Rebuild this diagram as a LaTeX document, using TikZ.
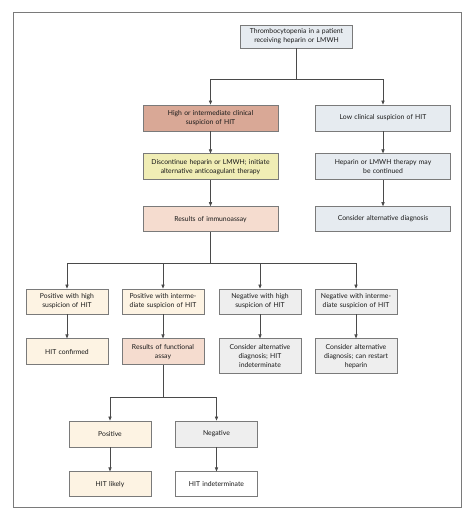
\documentclass[tikz,border=0pt]{standalone}
\usepackage{fontspec}
\setmainfont{Lato}
\usetikzlibrary{positioning, arrows.meta}
\definecolor{linegray}{HTML}{4A4A4A}
\definecolor{boxgray}{HTML}{7A7A7A}
\definecolor{bluegray}{HTML}{E6EBF0}
\definecolor{salmon}{HTML}{D9A896}
\definecolor{paleyellow}{HTML}{F0EDB5}
\definecolor{peach}{HTML}{F5DCCF}
\definecolor{cream}{HTML}{FDF3E3}
\definecolor{lightgray}{HTML}{EEEEEE}
\tikzset{
  box/.style={rectangle, draw=boxgray, line width=0.8pt, align=center, inner sep=1pt, text=black!90},
  widebox/.style={box, minimum width=135pt, minimum height=26pt, text width=131pt},
  smallbox/.style={box, minimum width=82pt, minimum height=25pt, text width=80pt},
  arrow/.style={draw=linegray, line width=0.7pt, -{Triangle[width=3.2pt,length=4pt]}},
  line/.style={draw=linegray, line width=0.7pt},
  frame/.style={draw=boxgray, line width=1pt}
}
\begin{document}
\begin{tikzpicture}[x=1pt, y=-1pt, node distance=24pt, every node/.style={font=\fontsize{6.8}{8.9}\selectfont}]
        \useasboundingbox [fill=white] (0,0) rectangle (474,521);
        \draw [frame] (13,13) rectangle (461,507);

        \node (start) [box, fill=bluegray, minimum width=112pt, minimum height=23pt, text width=108pt] at (296.5,36.5) {Thrombocytopenia in a patient\\receiving heparin or LMWH};

        % Rama izquierda: sospecha alta o intermedia
        \node (high) [widebox, fill=salmon] at (210.5,118) {High or intermediate clinical\\suspicion of HIT};
        \node (stop) [widebox, fill=paleyellow, below=22pt of high] {Discontinue heparin or LMWH; initiate\\alternative anticoagulant therapy};
        \node (immuno) [widebox, fill=peach, below=26pt of stop, minimum height=25pt] {Results of immunoassay};

        % Rama derecha: sospecha baja
        \node (low) [widebox, fill=bluegray] at (383,118) {Low clinical suspicion of HIT};
        \node (cont) [widebox, fill=bluegray, below=22pt of low] {Heparin or LMWH therapy may\\be continued};
        \node (altdiag) [widebox, fill=bluegray, below=26pt of cont, minimum height=25pt] {Consider alternative diagnosis};

        % Resultados del inmunoensayo
        \node (poshigh) [smallbox, fill=cream] at (67,301.5) {Positive with high\\suspicion of HIT};
        \node (posint) [smallbox, fill=cream] at (163,301.5) {Positive with interme-\\diate suspicion of HIT};
        \node (neghigh) [smallbox, fill=lightgray] at (260,301.5) {Negative with high\\suspicion of HIT};
        \node (negint) [smallbox, fill=lightgray] at (356,301.5) {Negative with interme-\\diate suspicion of HIT};

        \node (confirmed) [smallbox, fill=cream, below=of poshigh, minimum height=26pt] {HIT confirmed};
        \node (funct) [smallbox, fill=peach, below=of posint, minimum height=26pt] {Results of functional\\assay};
        \node (altind) [smallbox, fill=lightgray, below=of neghigh, minimum height=35pt] {Consider alternative\\diagnosis; HIT\\indeterminate};
        \node (restart) [smallbox, fill=lightgray, below=of negint, minimum height=35pt] {Consider alternative\\diagnosis; can restart\\heparin};

        % Resultados del ensayo funcional
        \node (positive) [smallbox, fill=cream, minimum height=26pt] at (110,434) {Positive};
        \node (negative) [smallbox, fill=lightgray, minimum height=26pt] at (216.5,434) {Negative};
        \node (likely) [smallbox, fill=cream, below=of positive] {HIT likely};
        \node (indet) [smallbox, fill=white, below=of negative] {HIT indeterminate};

        \coordinate (split1) at (296.5,79);
        \coordinate (split2) at (210.5,263);
        \coordinate (split3) at (163,397);

        \draw [line] (start.south) -- (split1);
        \draw [arrow] (split1) -| (high.north);
        \draw [arrow] (split1) -| (low.north);

        \draw [arrow] (high) -- (stop);
        \draw [arrow] (stop) -- (immuno);
        \draw [arrow] (low) -- (cont);
        \draw [arrow] (cont) -- (altdiag);

        \draw [line] (immuno.south) -- (split2);
        \draw [arrow] (split2) -| (poshigh.north);
        \draw [arrow] (split2) -| (posint.north);
        \draw [arrow] (split2) -| (neghigh.north);
        \draw [arrow] (split2) -| (negint.north);

        \draw [arrow] (poshigh) -- (confirmed);
        \draw [arrow] (posint) -- (funct);
        \draw [arrow] (neghigh) -- (altind);
        \draw [arrow] (negint) -- (restart);

        \draw [line] (funct.south) -- (split3);
        \draw [arrow] (split3) -| (positive.north);
        \draw [arrow] (split3) -| (negative.north);

        \draw [arrow] (positive) -- (likely);
        \draw [arrow] (negative) -- (indet);
\end{tikzpicture}
\end{document}
